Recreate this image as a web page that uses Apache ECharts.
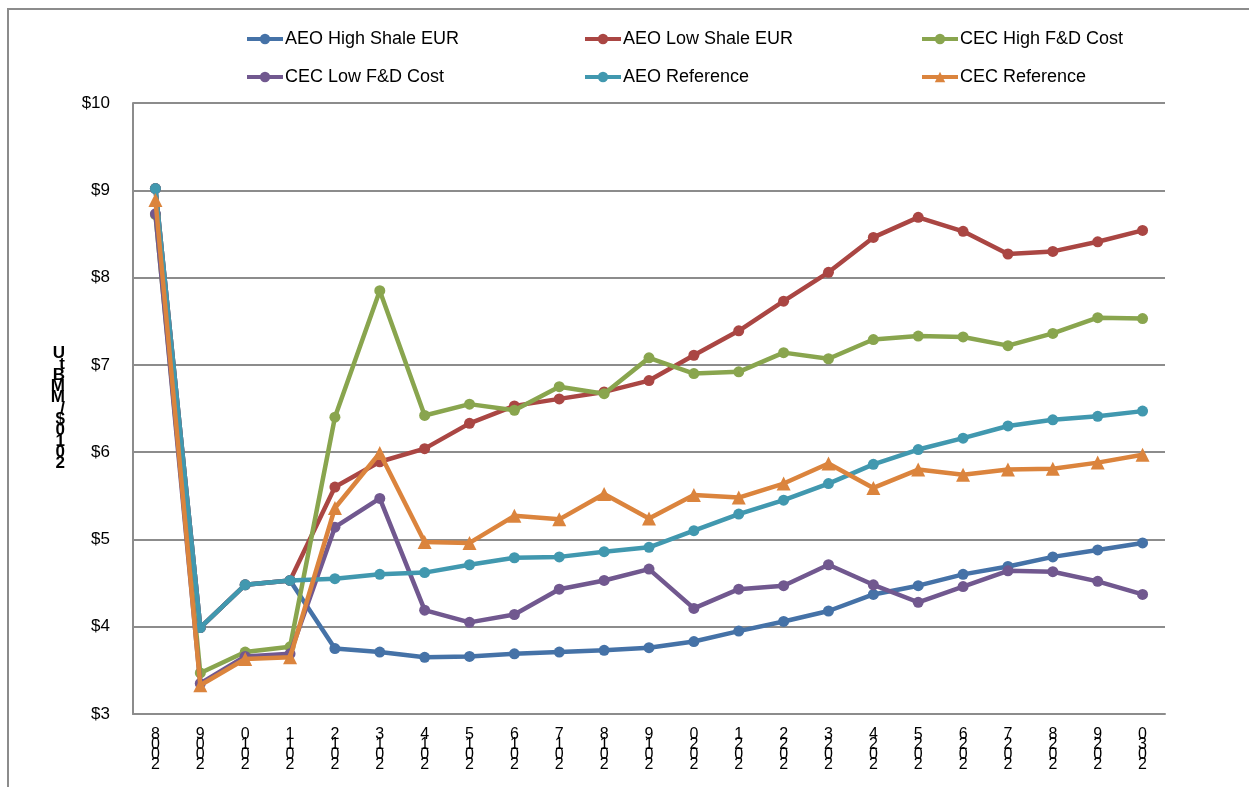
<!DOCTYPE html>
<html>
<head>
<meta charset="utf-8">
<script src="https://cdn.jsdelivr.net/npm/echarts@6/dist/echarts.min.js"></script>
<style>
html,body{margin:0;padding:0;background:#fff;}
#chart{width:1249px;height:787px;}
</style>
</head>
<body>
<div id="chart"></div>
<script>
var years = ['2008','2009','2010','2011','2012','2013','2014','2015','2016','2017','2018','2019','2020','2021','2022','2023','2024','2025','2026','2027','2028','2029','2030'];
var aeoHighShale = [9.02,3.99,4.48,4.53,3.75,3.71,3.65,3.66,3.69,3.71,3.73,3.76,3.83,3.95,4.06,4.18,4.37,4.47,4.60,4.69,4.80,4.88,4.96];
var aeoLowShale  = [9.02,3.99,4.48,4.53,5.60,5.89,6.04,6.33,6.53,6.61,6.69,6.82,7.11,7.39,7.73,8.06,8.46,8.69,8.53,8.27,8.30,8.41,8.54];
var cecHighFD    = [8.72,3.47,3.71,3.77,6.40,7.85,6.42,6.55,6.48,6.75,6.67,7.08,6.90,6.92,7.14,7.07,7.29,7.33,7.32,7.22,7.36,7.54,7.53];
var cecLowFD     = [8.73,3.35,3.66,3.69,5.14,5.47,4.19,4.05,4.14,4.43,4.53,4.66,4.21,4.43,4.47,4.71,4.48,4.28,4.46,4.64,4.63,4.52,4.37];
var aeoReference = [9.02,3.99,4.48,4.53,4.55,4.60,4.62,4.71,4.79,4.80,4.86,4.91,5.10,5.29,5.45,5.64,5.86,6.03,6.16,6.30,6.37,6.41,6.47];
var cecReference = [8.89,3.33,3.63,3.65,5.36,5.99,4.97,4.96,5.27,5.23,5.52,5.24,5.51,5.48,5.64,5.87,5.59,5.80,5.74,5.80,5.81,5.88,5.97];
var yTicks = [3,4,5,6,7,8,9,10];
var seriesNames = ['AEO High Shale EUR','AEO Low Shale EUR','CEC High F&D Cost','CEC Low F&D Cost','AEO Reference','CEC Reference'];
var yTitle = '2010$/MMBtU';

var colors = ['#4572A7','#AA4643','#89A54E','#71588F','#4198AF','#DB843D'];
var dataSets = [aeoHighShale, aeoLowShale, cecHighFD, cecLowFD, aeoReference, cecReference];
var symbols = ['circle','circle','circle','circle','circle','triangle'];

var legendPos = [[245,30],[583,30],[920,30],[245,68],[583,68],[920,68]];
var legends = seriesNames.map(function(n,i){
  return {
    data:[n], left:legendPos[i][0], top:legendPos[i][1], padding:0,
    itemWidth:36, itemHeight:13, itemGap:5,
    lineStyle:{width:4},
    textStyle:{fontFamily:'Liberation Sans, Arial', fontSize:18, color:'#000', padding:[0,0,0,-3]}
  };
});

var chart = echarts.init(document.getElementById('chart'));
chart.setOption({
  animation:false,
  backgroundColor:'#fff',
  color:colors,
  graphic:[{type:'rect', shape:{x:8,y:9,width:1400,height:1000}, style:{fill:'none', stroke:'#8c8c8c', lineWidth:2}, silent:true}],
  legend:legends,
  grid:{left:133, right:84, top:103, bottom:73},
  xAxis:{
    type:'category', data:years, boundaryGap:true,
    axisLine:{show:true, lineStyle:{color:'#8c8c8c', width:2}},
    axisTick:{show:false},
    axisLabel:{
      interval:0, margin:16, color:'#000', fontFamily:'Liberation Sans, Arial', fontSize:16, lineHeight:10,
      formatter:function(v){ return v.split('').reverse().join('\n'); }
    },
    splitLine:{show:false}
  },
  yAxis:{
    type:'value', min:yTicks[0], max:yTicks[yTicks.length-1], interval:1,
    name: yTitle.split('').reverse().join('\n'),
    nameLocation:'middle', nameRotate:0, nameGap:68,
    nameTextStyle:{color:'#000', fontFamily:'Liberation Sans, Arial', fontSize:17, fontWeight:'bold', lineHeight:11},
    axisLine:{show:true, lineStyle:{color:'#8c8c8c', width:2}},
    axisTick:{show:false},
    axisLabel:{margin:23, color:'#000', fontFamily:'Liberation Sans, Arial', fontSize:17, formatter:function(v){return '$'+v;}},
    splitLine:{show:true, lineStyle:{color:'#8c8c8c', width:2}}
  },
  series: seriesNames.map(function(n,i){
    return {
      name:n, type:'line', data:dataSets[i],
      symbol:symbols[i], symbolSize: symbols[i]==='triangle'?14:11,
      showSymbol:true,
      lineStyle:{width:4.5, color:colors[i]},
      itemStyle:{color:colors[i], borderWidth:0},
      z: 2+i
    };
  })
});
</script>
</body>
</html>
